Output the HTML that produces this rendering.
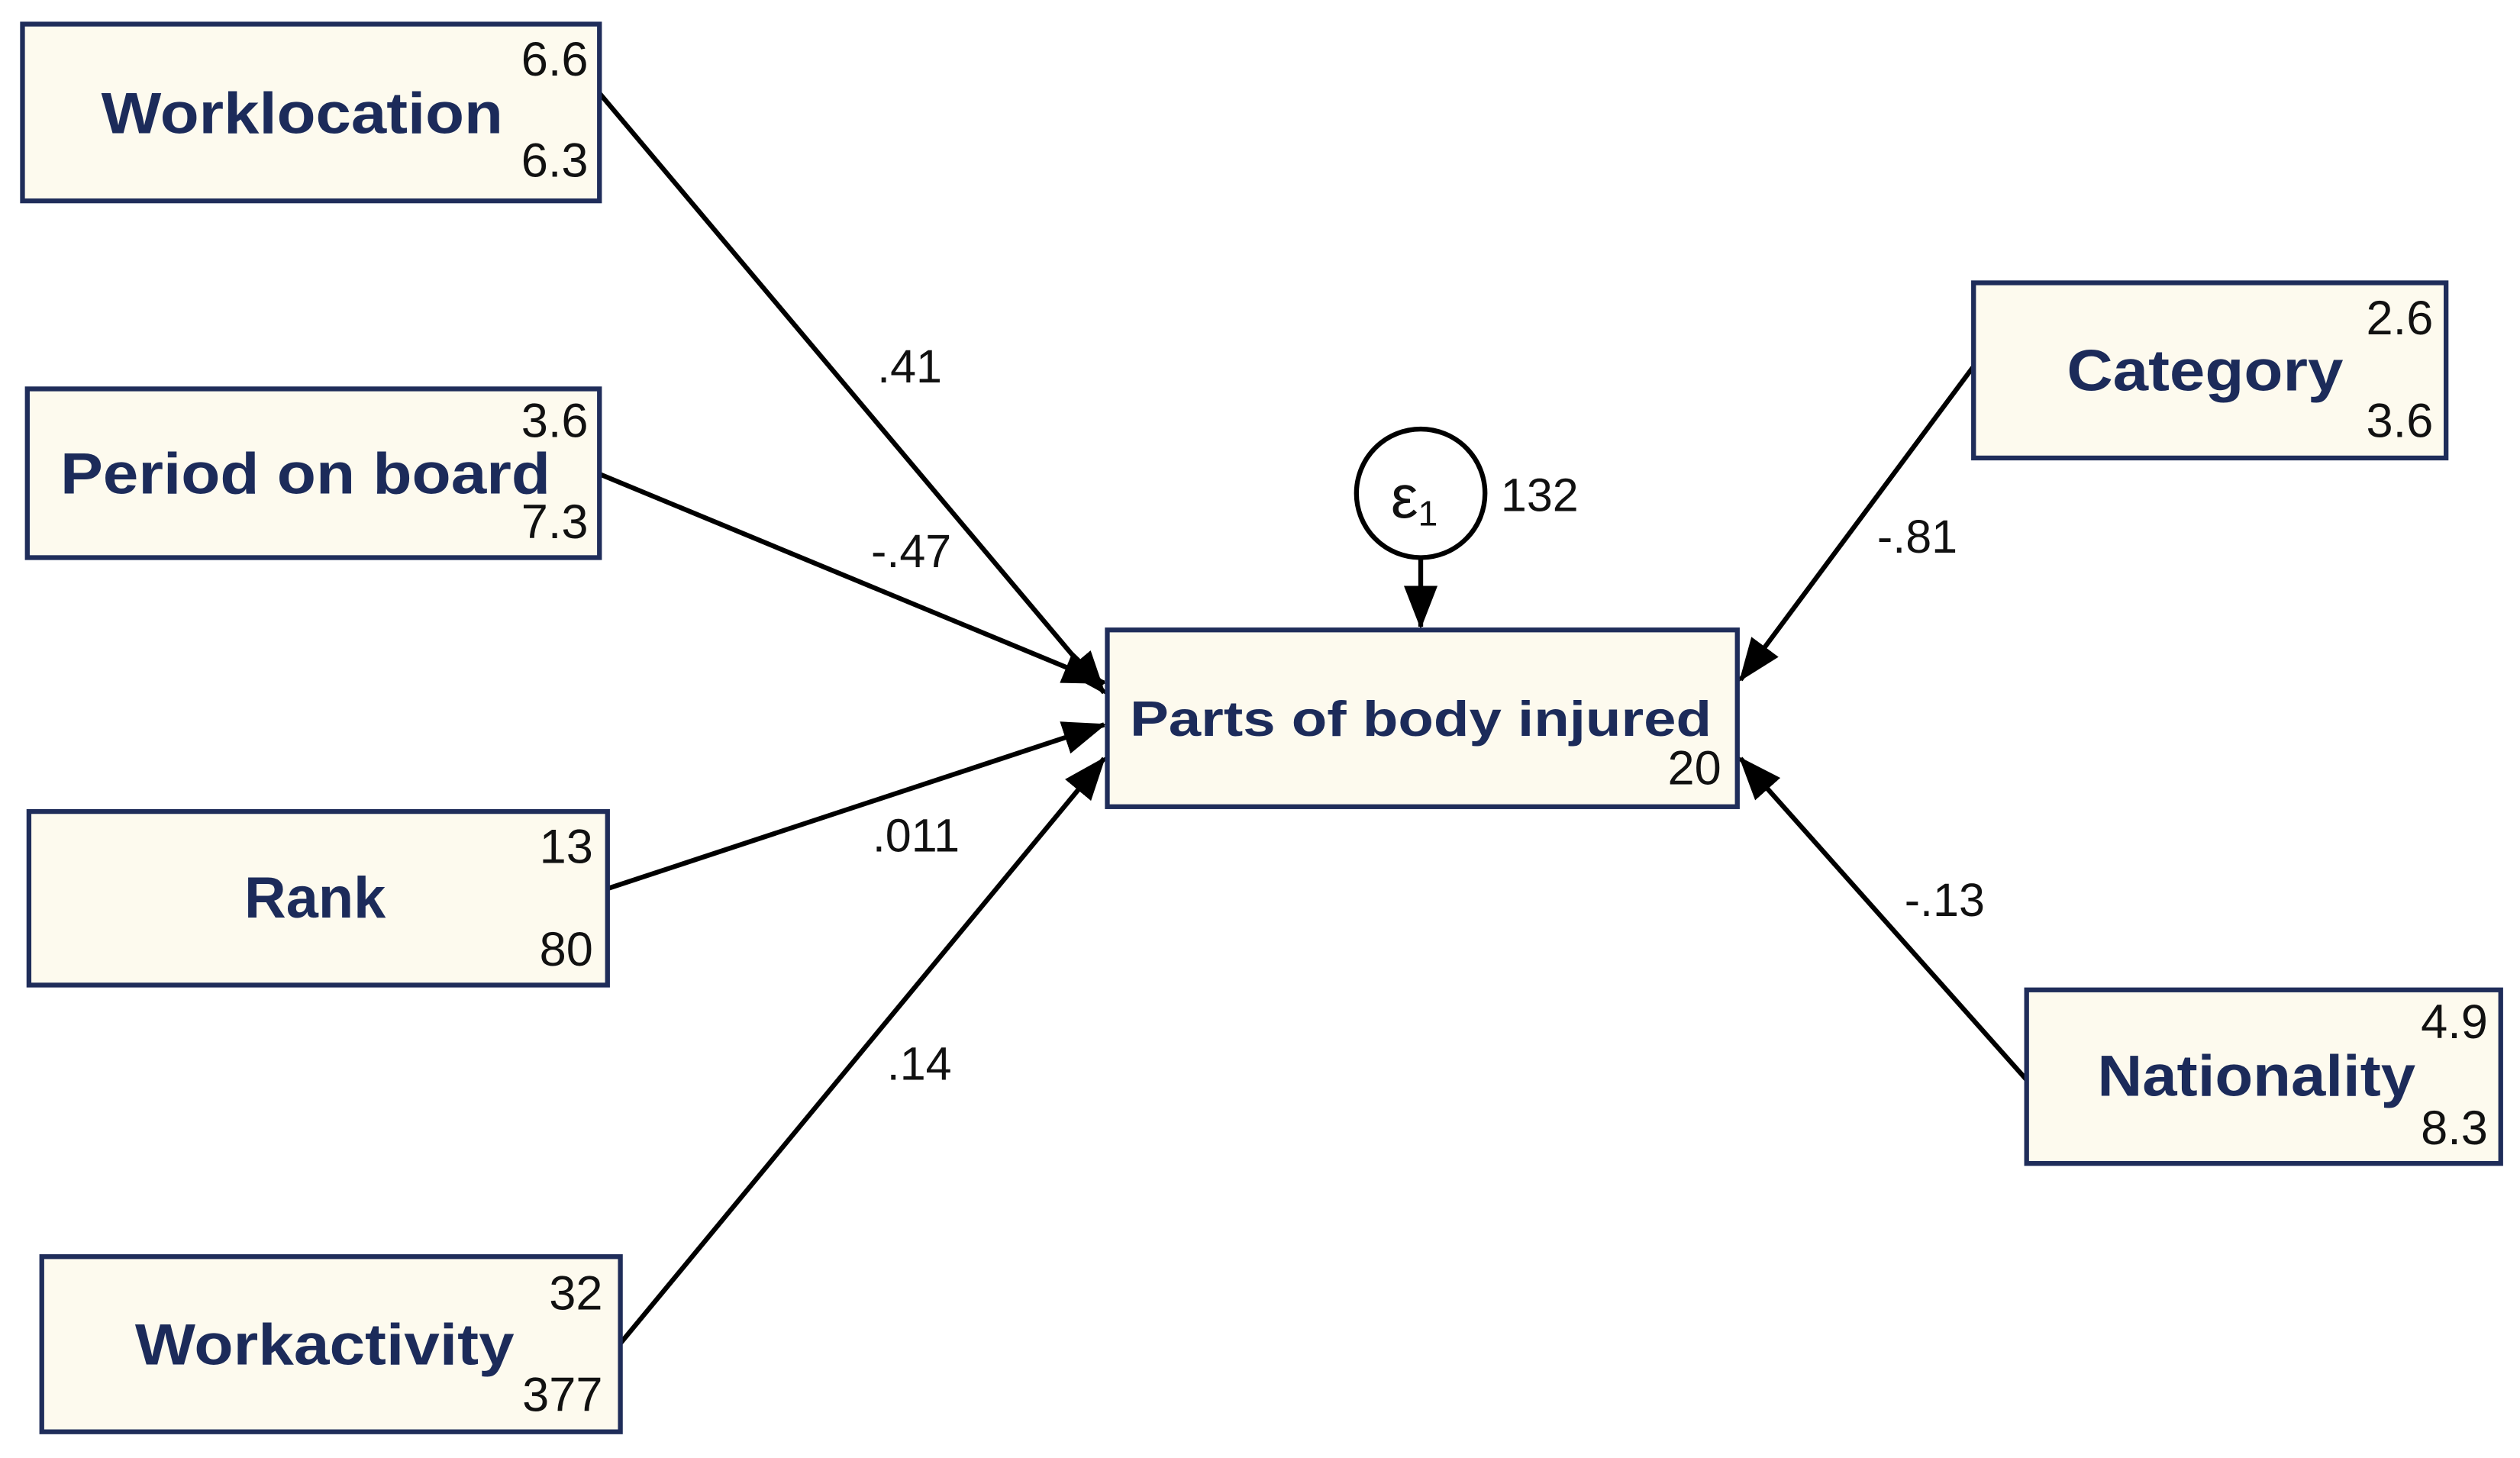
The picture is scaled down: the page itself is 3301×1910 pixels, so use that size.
<!DOCTYPE html>
<html><head><meta charset="utf-8"><style>html,body{margin:0;padding:0;background:#fff}svg{display:block}</style></head>
<body>
<svg width="3301" height="1910" viewBox="0 0 1568 907.3" preserveAspectRatio="none" xmlns="http://www.w3.org/2000/svg">
<defs>
<marker id="ah" markerWidth="9" markerHeight="7" refX="8.5" refY="3.5" orient="auto" markerUnits="strokeWidth">
<path d="M0,0 L9,3.5 L0,7 z" fill="#000"/>
</marker>
</defs>
<g stroke="#000" stroke-width="3" fill="none">
<line x1="373" y1="58" x2="687" y2="431" marker-end="url(#ah)"/>
<line x1="373" y1="295" x2="687" y2="425" marker-end="url(#ah)"/>
<line x1="378" y1="553" x2="687" y2="451" marker-end="url(#ah)"/>
<line x1="386" y1="836" x2="687" y2="472" marker-end="url(#ah)"/>
<line x1="1228" y1="228" x2="1083" y2="423" marker-end="url(#ah)"/>
<line x1="1261" y1="672" x2="1083" y2="472" marker-end="url(#ah)"/>
<line x1="884" y1="347" x2="884" y2="390" marker-end="url(#ah)"/>
</g>
<g fill="#fdfaee" stroke="#1f2d5a" stroke-width="3">
<rect x="14" y="15" width="359" height="110"/>
<rect x="17" y="242" width="356" height="105"/>
<rect x="18" y="505" width="360" height="108"/>
<rect x="26" y="782" width="360" height="109"/>
<rect x="689" y="392" width="392" height="110"/>
<rect x="1228" y="176" width="294" height="109"/>
<rect x="1261" y="616" width="295" height="108"/>
</g>
<circle cx="884" cy="307" r="40" fill="#fff" stroke="#000" stroke-width="3"/>
<g font-family="Liberation Sans, sans-serif" font-weight="bold" fill="#1c2b5a" font-size="36" text-anchor="middle">
<text x="188" y="83" textLength="250" lengthAdjust="spacingAndGlyphs">Worklocation</text>
<text x="190" y="307" textLength="305" lengthAdjust="spacingAndGlyphs">Period on board</text>
<text x="196" y="571">Rank</text>
<text x="202" y="849" textLength="236" lengthAdjust="spacingAndGlyphs">Workactivity</text>
<text x="884" y="458" font-size="31" textLength="362" lengthAdjust="spacingAndGlyphs">Parts of body injured</text>
<text x="1372" y="243" textLength="172" lengthAdjust="spacingAndGlyphs">Category</text>
<text x="1404" y="682" textLength="198" lengthAdjust="spacingAndGlyphs">Nationality</text>
</g>
<g font-family="Liberation Sans, sans-serif" fill="#111" font-size="30" text-anchor="end">
<text x="366" y="47">6.6</text><text x="366" y="110">6.3</text>
<text x="366" y="272">3.6</text><text x="366" y="335">7.3</text>
<text x="369" y="537">13</text><text x="369" y="601">80</text>
<text x="375" y="815">32</text><text x="375" y="878">377</text>
<text x="1071" y="488">20</text>
<text x="1514" y="208">2.6</text><text x="1514" y="272">3.6</text>
<text x="1548" y="646">4.9</text><text x="1548" y="712">8.3</text>
</g>
<g font-family="Liberation Sans, sans-serif" fill="#111" font-size="29" text-anchor="middle">
<text x="566" y="238">.41</text>
<text x="567" y="353">-.47</text>
<text x="570" y="530">.011</text>
<text x="572" y="672">.14</text>
<text x="1193" y="344">-.81</text>
<text x="1210" y="570">-.13</text>
<text x="958" y="318">132</text>
<text x="880" y="322" font-size="38">ε<tspan font-size="22" dy="5">1</tspan></text>
</g>
</svg>
</body></html>
